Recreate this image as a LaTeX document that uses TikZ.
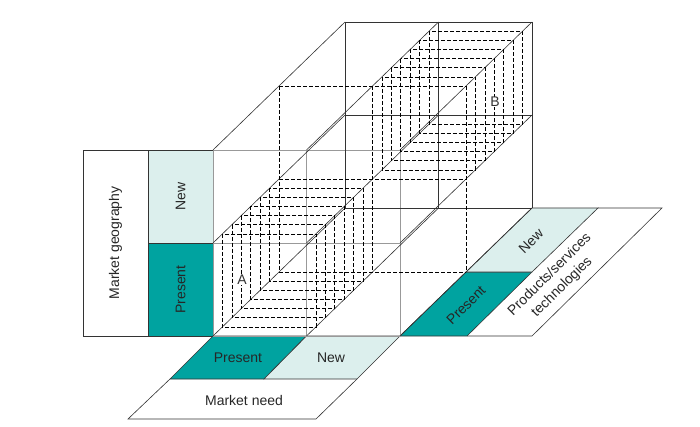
\documentclass[tikz,border=0pt]{standalone}
\usepackage{fontspec}
\setmainfont{Liberation Sans}
\usetikzlibrary{calc}
\definecolor{tealA}{RGB}{0,163,160}
\definecolor{tealL}{RGB}{220,239,237}
\begin{document}
\begin{tikzpicture}[x=1pt,y=-1pt,
  ln/.style={draw=black!80, line width=0.6pt},
  gl/.style={draw=black!40, line width=0.9pt},
  dl/.style={draw=black, line width=0.6pt, dash pattern=on 4pt off 2pt},
  lbl/.style={font=\fontsize{14}{16.5}\selectfont, text=black!85, inner sep=0pt},
  let/.style={font=\fontsize{14}{15}\selectfont, text=black!80, inner sep=0.6pt, fill=white}]
\useasboundingbox (0,0) rectangle (700,427);
% lattice points p<i><j><k>
\foreach \i in {0,1,2}{\foreach \j in {0,1,2}{\foreach \k in {0,1,2}{
  \coordinate (p\i\j\k) at ({213+93.5*\i+66*\k},{150+93*\j-64*\k});}}}
% left column
\draw[ln, fill=white] (83,150) rectangle (148,336);
\draw[ln, fill=tealL] (148,150) rectangle (213,243);
\draw[ln, fill=tealA] (148,243) rectangle (213,336);
\node[lbl, rotate=90] (mg) at (115.5,243) {Market geography};
\node[lbl, rotate=90] (gn) at (180.5,196.5) {New};
\node[lbl, rotate=90] (gp) at (180.5,289.5) {Present};
% bottom strips
\coordinate (b1) at (264,379); \coordinate (b0) at (170,379); \coordinate (b2) at (357,379);
\coordinate (c0) at (128,419); \coordinate (c2) at (316,419);
\draw[ln, fill=tealA] (p020) -- (p120) -- (b1) -- (b0) -- cycle;
\draw[ln, fill=tealL] (p120) -- (p220) -- (b2) -- (b1) -- cycle;
\draw[ln] (b0) -- (c0) -- (c2) -- (b2);
\node[lbl] (np) at (238,358) {Present};
\node[lbl] (nn) at (331,358) {New};
\node[lbl] (mn) at (244,400) {Market need};
% right strips
\coordinate (r1) at (467,336); \coordinate (r2) at (532,336);
\coordinate (s1) at (532,272); \coordinate (t1) at (598,208); \coordinate (t2) at (662,208);
\draw[ln, fill=tealA] (p220) -- (r1) -- (s1) -- (p221) -- cycle;
\draw[ln, fill=tealL] (p221) -- (s1) -- (t1) -- (p222) -- cycle;
\draw[ln] (r1) -- (r2) -- (t2) -- (t1);
\node[lbl, rotate=44.6] (rp) at (466,305) {Present};
\node[lbl, rotate=44.6] (rn) at (531,241) {New};
\node[lbl, rotate=44.6, align=center, font=\fontsize{14}{17.5}\selectfont] (pst) at (556,281) {Products/services\\technologies};
% front face grid
\draw[gl] (p000) -- (p020) (p100) -- (p120) (p200) -- (p220);
\draw[gl] (p000) -- (p200) (p010) -- (p210) (p020) -- (p220);
% back face grid
\draw[ln] (p002) -- (p022) (p102) -- (p122) (p202) -- (p222);
\draw[ln] (p002) -- (p202) (p012) -- (p212) (p022) -- (p222);
% depth edges
\foreach \i in {0,1,2}{\foreach \j in {0,1,2}{\draw[ln] (p\i\j0) -- (p\i\j2);}}
% middle plane (dashed)
\draw[dl] (p001) -- (p021) (p101) -- (p121) (p201) -- (p221);
\draw[dl] (p001) -- (p201) (p011) -- (p211) (p021) -- (p221);
% box A nested frames
\foreach \m in {1,...,6}{
  \draw[dl] ($(p010)+({66*\m/7},{-64*\m/7})$) rectangle ($(p120)+({66*\m/7},{-64*\m/7})$);}
% box B nested frames
\foreach \m in {1,...,6}{
  \draw[dl] ($(p101)+({66*\m/7},{-64*\m/7})$) rectangle ($(p211)+({66*\m/7},{-64*\m/7})$);}
\node[let] (A) at (242,280) {A};
\node[let] (B) at (495,102) {B};
\end{tikzpicture}
\end{document}
